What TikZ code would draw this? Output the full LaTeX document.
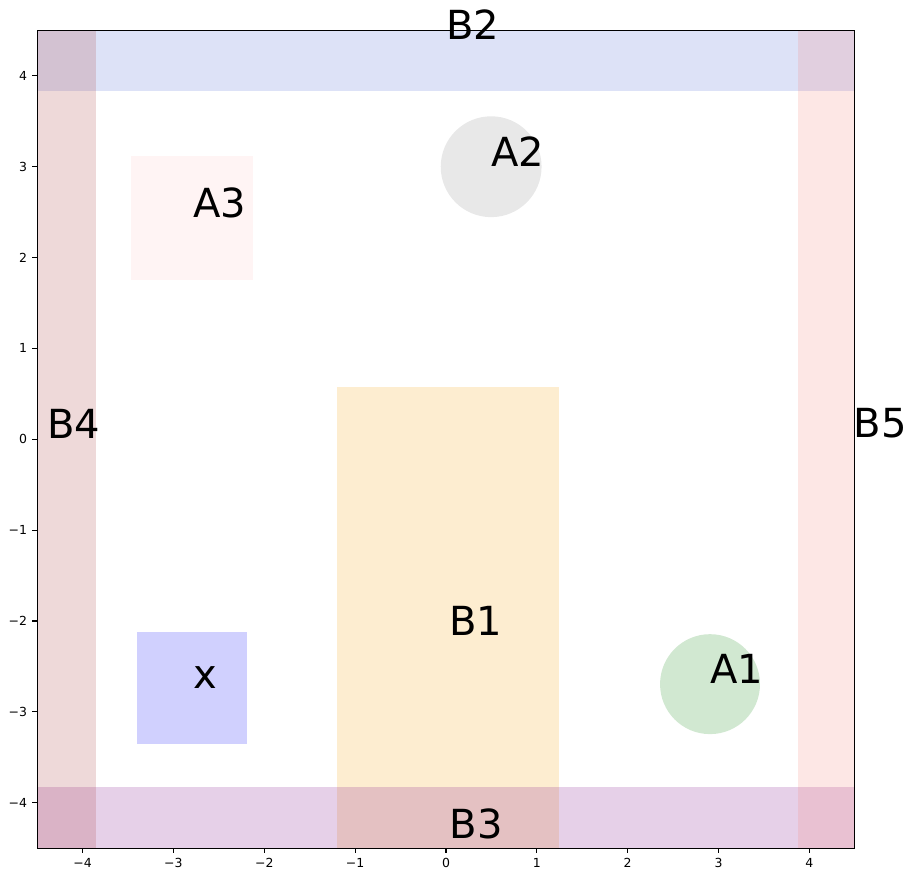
\documentclass[tikz,border=0pt]{standalone}
\usepackage{fontspec}
\setmainfont{DejaVu Sans}
\definecolor{cB1}{RGB}{245,165,20}
\definecolor{cB2}{RGB}{85,110,215}
\definecolor{cB3}{RGB}{130,20,140}
\definecolor{cB4}{RGB}{170,65,65}
\definecolor{cB5}{RGB}{245,135,125}
\definecolor{cA1}{RGB}{25,140,25}
\definecolor{cA2}{RGB}{140,140,140}
\definecolor{cA3}{RGB}{255,200,200}
\definecolor{cX}{RGB}{20,20,250}
\tikzset{
  region/.style={fill opacity=0.2},
  lbl/.style={anchor=base west, inner sep=0pt, font=\fontsize{22.8}{27}\selectfont},
  tickmark/.style={line width=0.63pt, black},
  ticklbl/.style={inner sep=0pt, font=\fontsize{7.1}{8.5}\selectfont},
  frame/.style={line width=0.63pt, black}
}
\begin{document}
\begin{tikzpicture}[x=1.817cm, y=1.817cm]
\useasboundingbox (-4.909,-4.840) rectangle (5.140,4.835);
\begin{scope}
\clip (-4.5,-4.5) rectangle (4.5,4.5);
% B1
\fill[region, cB1] (-1.196,-4.902) rectangle (1.247,0.572);
% B2 top band
\fill[region, cB2] (-4.6,3.837) rectangle (4.6,4.95);
% B3 bottom band
\fill[region, cB3] (-4.6,-4.96) rectangle (4.6,-3.824);
% B4 left band
\fill[region, cB4] (-4.95,-4.6) rectangle (-3.853,4.6);
% B5 right band
\fill[region, cB5] (3.878,-4.6) rectangle (5.1,4.6);
% A1, A2 circles
\fill[region, cA1] (2.906,-2.695) circle (0.55);
\fill[region, cA2] (0.497,3.0) circle (0.555);
% A3 rectangle
\fill[region, cA3] (-3.467,1.753) rectangle (-2.121,3.122);
% x rectangle
\fill[region, cX] (-3.398,-3.357) rectangle (-2.190,-2.124);
\end{scope}
% frame
\draw[frame] (-4.5,-4.5) rectangle (4.5,4.5);
% labels
\node[lbl] (lA1) at (2.906,-2.690) {A1};
\node[lbl] (lA2) at (0.497,3.005) {A2};
\node[lbl] (lA3) at (-2.788,2.444) {A3};
\node[lbl] (lX) at (-2.785,-2.741) {x};
\node[lbl] (lB1) at (0.03,-2.165) {B1};
\node[lbl] (lB2) at (0.0,4.395) {B2};
\node[lbl] (lB3) at (0.04,-4.392) {B3};
\node[lbl] (lB4) at (-4.395,0.01) {B4};
\node[lbl] (lB5) at (4.483,0.02) {B5};
% ticks
\foreach \v/\t in {-4/−4,-3/−3,-2/−2,-1/−1,0/0,1/1,2/2,3/3,4/4}{
  \draw[tickmark] (\v,-4.5) -- (\v,-4.5535);
  \node[ticklbl, anchor=north] at (\v,-4.607) {\t};
  \draw[tickmark] (-4.5,\v) -- (-4.5535,\v);
  \node[ticklbl, anchor=east] at (-4.607,\v) {\t};
}
\end{tikzpicture}
\end{document}
